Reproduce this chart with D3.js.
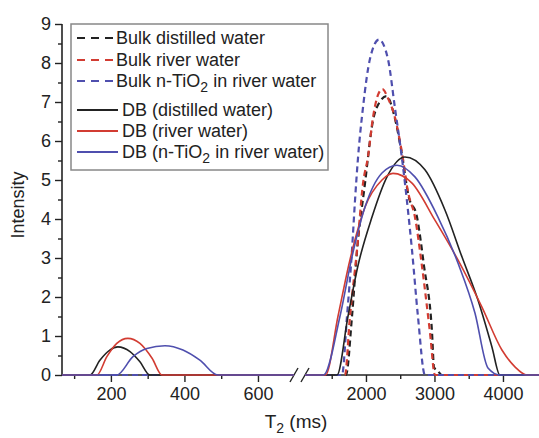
<!DOCTYPE html>
<html lang="en"><head>
<meta charset="utf-8">
<title>T2 distribution</title>
<script src="https://cdn.jsdelivr.net/npm/d3@7/dist/d3.min.js"></script>
<style>
  body { margin: 0; background: #fff; }
  text { font-family: "Liberation Sans", Arial, sans-serif; fill: #222; }
</style>
</head>
<body>
<svg width="539" height="438"></svg>
<script>
// T2 (ms), intensity pairs
var bulkDistilled = [[1708,0],[1796,1.5],[1870,3.2],[1985,4.9],[2100,6.5],[2200,7.0],[2300,7.15],[2420,6.6],[2530,5.6],[2620,4.6],[2745,4.05],[2847,2.8],[2964,1.1],[2993,0.2],[3050,0.1],[3109,0]];
var bulkRiver     = [[1693,0],[1766,1.5],[1869,3.2],[1956,4.9],[2030,5.6],[2102,6.6],[2180,7.2],[2240,7.33],[2320,7.1],[2423,6.6],[2526,5.7],[2613,4.7],[2715,4.05],[2817,2.8],[2934,1.1],[3007,0]];
var bulkTiO2      = [[1650,0],[1723,1.5],[1796,3.2],[1839,4.45],[1883,5.55],[1956,6.85],[2058,8.1],[2190,8.6],[2321,8.1],[2423,6.85],[2526,5.55],[2599,4.45],[2672,3.2],[2759,1.5],[2861,0]];

var dbDistilled = [[143,0],[170,0.38],[197,0.64],[219,0.72],[252,0.6],[279,0.34],[306,0],
                   [1577,0],[1737,1.5],[1883,2.8],[2088,4.05],[2307,5.08],[2569,5.59],[2861,5.26],[3153,4.23],[3401,3.03],[3635,1.92],[3839,0.72],[3956,0]];
var dbRiver     = [[162,0],[189,0.47],[216,0.81],[246,0.94],[279,0.81],[312,0.43],[339,0],
                   [1410,0],[1591,1.5],[1766,2.95],[1985,4.3],[2234,5.0],[2394,5.17],[2672,4.92],[3007,3.97],[3343,2.95],[3693,1.74],[3985,0.64],[4175,0.21],[4350,0]];
var dbTiO2      = [[216,0],[260,0.47],[298,0.68],[347,0.75],[396,0.64],[442,0.38],[491,0],
                   [1380,0],[1620,1.5],[1796,3.03],[1985,4.3],[2234,5.18],[2453,5.38],[2715,5.08],[3051,4.05],[3343,2.87],[3591,1.59],[3781,0.18],[3956,0]];

var yTicks = [0,1,2,3,4,5,6,7,8,9];
var xTicksLeft = [200,400,600];
var xTicksRight = [2000,3000,4000];
var xMinorLeft = [100,300,500];
var xMinorRight = [1500,2500,3500];

var series = [
  {name: "Bulk distilled water", data: bulkDistilled, color: "#222222", dash: true},
  {name: "Bulk river water", data: bulkRiver, color: "#d23c32", dash: true},
  {name: "Bulk n-TiO|2| in river water", data: bulkTiO2, color: "#4f4fae", dash: true},
  {name: "DB (distilled water)", data: dbDistilled, color: "#222222", dash: false},
  {name: "DB (river water)", data: dbRiver, color: "#d23c32", dash: false},
  {name: "DB (n-TiO|2| in river water)", data: dbTiO2, color: "#4f4fae", dash: false}
];

var svg = d3.select("svg");
var fs = "18px", fsSub = "14px";

var xL = d3.scaleLinear().domain([67, 698]).range([62, 294]);
var xR = d3.scaleLinear().domain([1110, 4526]).range([305, 539]);
var y = d3.scaleLinear().domain([0, 9]).range([375, 24]);

// axes
svg.append("g").attr("transform", "translate(62,0)")
  .call(d3.axisLeft(y).tickValues(d3.range(0.5, 9, 1)).tickSize(4).tickFormat(""));
svg.append("g").attr("transform", "translate(62,0)")
  .call(d3.axisLeft(y).tickValues(yTicks).tickSize(7).tickPadding(4));

function xAxis(scale, major, minor) {
  svg.append("g").attr("transform", "translate(0,375)")
    .call(d3.axisBottom(scale).tickValues(minor).tickSize(4).tickFormat(""));
  svg.append("g").attr("transform", "translate(0,375)")
    .call(d3.axisBottom(scale).tickValues(major).tickSize(7).tickPadding(5).tickFormat(d3.format("d")));
}
xAxis(xL, xTicksLeft, xMinorLeft);
xAxis(xR, xTicksRight, xMinorRight);

svg.selectAll(".domain").remove();
svg.selectAll(".tick line").attr("stroke", "#222").attr("stroke-width", 1.4);
svg.selectAll(".tick text").style("font-size", fs).attr("fill", "#222");

// axis lines
svg.append("line").attr("x1", 62).attr("x2", 62).attr("y1", y(9)).attr("y2", y(0)).attr("stroke", "#222").attr("stroke-width", 1.6);
svg.append("line").attr("x1", 62).attr("x2", 294).attr("y1", 375).attr("y2", 375).attr("stroke", "#222").attr("stroke-width", 1.6);
svg.append("line").attr("x1", 305).attr("x2", 539).attr("y1", 375).attr("y2", 375).attr("stroke", "#222").attr("stroke-width", 1.6);
// break marks
[294, 305].forEach(function(bx) {
  svg.append("line").attr("x1", bx - 4).attr("y1", 382).attr("x2", bx + 4).attr("y2", 368)
    .attr("stroke", "#222").attr("stroke-width", 1.4);
});

// curves, split in two pieces at the axis break
function pieces(data) {
  var left = data.filter(function(d) { return d[0] <= 700; });
  var right = data.filter(function(d) { return d[0] > 700; });
  var l = [[xL.domain()[0], 0]].concat(left, [[xL.domain()[1], 0]]).map(function(d) { return [d[0], d[1], xL(d[0])]; });
  var r = [[xR.domain()[0], 0]].concat(right, [[xR.domain()[1], 0]]).map(function(d) { return [d[0], d[1], xR(d[0])]; });
  return [l, r];
}
var line = d3.line().curve(d3.curveMonotoneX)
  .x(function(d) { return d[2]; }).y(function(d) { return y(d[1]); });
var curves = svg.append("g");
series.forEach(function(s) {
  pieces(s.data).forEach(function(p) {
    curves.append("path")
      .attr("d", line(p))
      .attr("fill", "none")
      .attr("stroke", s.color)
      .attr("stroke-width", s.dash ? 2.2 : 1.6)
      .attr("stroke-dasharray", s.dash ? "6,4" : null);
  });
});

// legend
var lg = svg.append("g");
lg.append("rect").attr("x", 71).attr("y", 24).attr("width", 257).attr("height", 146)
  .attr("fill", "#fff").attr("stroke", "#888").attr("stroke-width", 1.5);
var rowsY = [38, 60, 81, 110, 131, 152];
series.forEach(function(s, i) {
  var yy = rowsY[i];
  lg.append("line").attr("x1", 77).attr("x2", s.dash ? 115 : 118).attr("y1", yy).attr("y2", yy)
    .attr("stroke", s.color).attr("stroke-width", s.dash ? 2 : 1.8)
    .attr("stroke-dasharray", s.dash ? "8,6" : null);
  var parts = s.name.split("|");
  var t = lg.append("text").attr("x", s.dash ? 116 : 122).attr("y", yy + 6).style("font-size", fs);
  t.append("tspan").text(parts[0]);
  if (parts.length > 1) {
    t.append("tspan").attr("dy", 5).style("font-size", fsSub).text(parts[1]);
    t.append("tspan").attr("dy", -5).text(parts[2]);
  }
});

// axis titles
svg.append("text").attr("transform", "translate(24,205) rotate(-90)")
  .attr("text-anchor", "middle").style("font-size", fs).text("Intensity");
var xt = svg.append("text").attr("x", 296).attr("y", 428).attr("text-anchor", "middle").style("font-size", "19px");
xt.append("tspan").text("T");
xt.append("tspan").attr("dy", 5).style("font-size", fsSub).text("2");
xt.append("tspan").attr("dy", -5).text(" (ms)");
</script>
</body>
</html>
